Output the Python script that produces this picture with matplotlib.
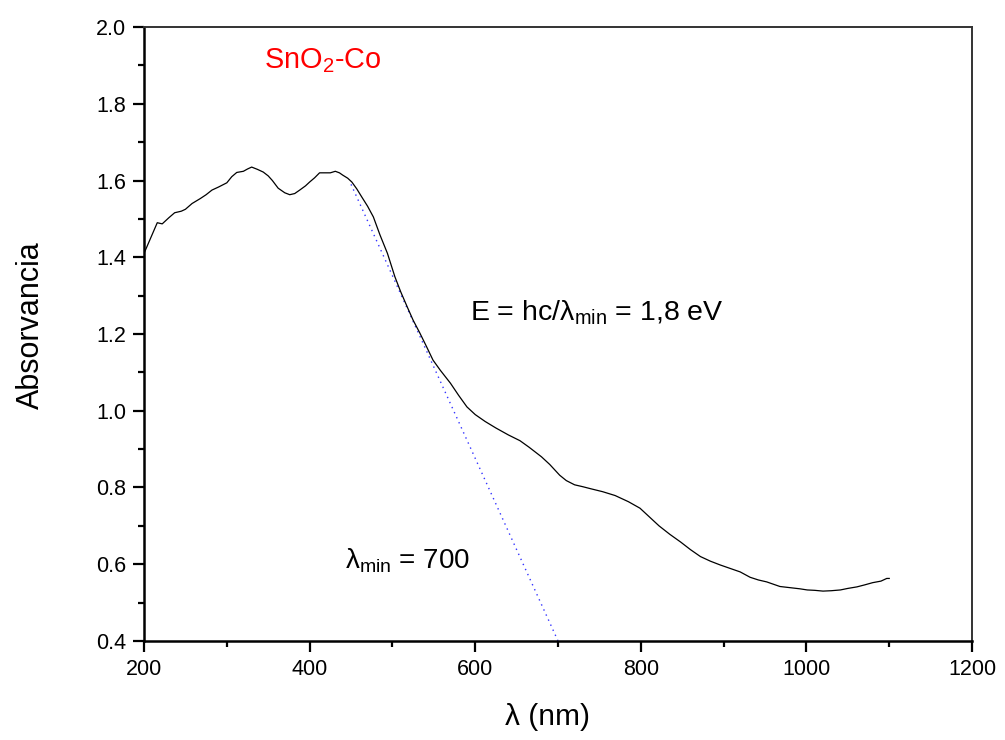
import matplotlib
matplotlib.use("Agg")
import matplotlib.pyplot as plt
from matplotlib.ticker import MultipleLocator

plt.rcParams['font.family'] = ['Liberation Sans', 'DejaVu Sans']
plt.rcParams['mathtext.fontset'] = 'custom'
plt.rcParams['mathtext.rm'] = 'Liberation Sans'
plt.rcParams['mathtext.it'] = 'Liberation Sans:italic'
plt.rcParams['mathtext.bf'] = 'Liberation Sans:bold'

wavelength = [200, 204, 210, 216, 222, 230, 237, 245, 250, 258, 268, 275, 282, 290, 300,
              306, 312, 320, 325, 330, 337, 344, 350, 355, 362, 370, 376, 382, 388, 395,
              400, 406, 412, 418, 425, 431, 436, 440, 446, 451, 457, 463, 470, 477, 485,
              494, 503, 510, 518, 525, 533, 541, 549, 558, 570, 580, 590, 600, 612, 625,
              640, 654, 665, 680, 690, 702, 710, 720, 730, 739, 754, 769, 785, 799, 811,
              822, 835, 848, 860, 872, 884, 896, 908, 920, 932, 942, 952, 960, 968, 976,
              984, 992, 1001, 1010, 1020, 1030, 1041, 1050, 1061, 1070, 1080, 1090, 1097, 1100]
absorbance = [1.41, 1.43, 1.46, 1.49, 1.487, 1.503, 1.516, 1.52, 1.525, 1.54, 1.553, 1.563,
              1.575, 1.583, 1.594, 1.61, 1.621, 1.624, 1.63, 1.635, 1.629, 1.622, 1.612, 1.600,
              1.58, 1.568, 1.563, 1.566, 1.575, 1.586, 1.596, 1.607, 1.62, 1.62, 1.62, 1.624,
              1.62, 1.614, 1.606, 1.596, 1.578, 1.557, 1.533, 1.505, 1.458, 1.41, 1.349, 1.31,
              1.27, 1.236, 1.203, 1.168, 1.132, 1.105, 1.072, 1.04, 1.01, 0.99, 0.972, 0.955,
              0.937, 0.922, 0.905, 0.88, 0.86, 0.832, 0.818, 0.807, 0.802, 0.797, 0.789, 0.779,
              0.763, 0.746, 0.722, 0.70, 0.678, 0.658, 0.638, 0.62, 0.608, 0.598, 0.589, 0.58,
              0.566, 0.559, 0.554, 0.548, 0.542, 0.54, 0.538, 0.536, 0.533, 0.532, 0.530, 0.531,
              0.533, 0.537, 0.541, 0.546, 0.552, 0.556, 0.563, 0.563]
tangent_x = [450, 700]
tangent_y = [1.59, 0.40]

fig = plt.figure(figsize=(10.05, 7.4), dpi=100)
ax = fig.add_axes([0.1433, 0.1338, 0.9672 - 0.1433, 0.9635 - 0.1338])

ax.plot(tangent_x, tangent_y, color='#3333ff', lw=1.0, linestyle=(0, (1, 3)))
ax.plot(wavelength, absorbance, color='black', lw=0.9)

ax.set_xlim(200, 1200)
ax.set_ylim(0.4, 2.0)
ax.xaxis.set_major_locator(MultipleLocator(200))
ax.xaxis.set_minor_locator(MultipleLocator(100))
ax.yaxis.set_major_locator(MultipleLocator(0.2))
ax.yaxis.set_minor_locator(MultipleLocator(0.1))
ax.yaxis.set_major_formatter(matplotlib.ticker.FormatStrFormatter('%.1f'))
ax.tick_params(which='major', direction='out', length=8, width=1.6, labelsize=15.5, pad=5)
ax.tick_params(which='minor', direction='out', length=4.5, width=1.6)
ax.tick_params(top=False, right=False)
for s in ['left', 'bottom']:
    ax.spines[s].set_linewidth(1.8)
for s in ['top', 'right']:
    ax.spines[s].set_linewidth(1.4)
    ax.spines[s].set_color('#333333')

ax.set_xlabel('λ (nm)', fontsize=21.5)
ax.set_ylabel('Absorvancia', fontsize=22)
ax.xaxis.set_label_coords(0.487, -0.101)
ax.yaxis.set_label_coords(-0.118, 0.515)

ax.text(0.145, 0.945, 'SnO$_2$-Co', transform=ax.transAxes, color='red', fontsize=20.8,
        ha='left', va='center')
ax.text(0.394, 0.535, 'E = hc/λ$_{\\mathrm{min}}$ = 1,8 eV', transform=ax.transAxes, fontsize=20.5,
        ha='left', va='center')
ax.text(0.243, 0.13, 'λ$_{\\mathrm{min}}$ = 700', transform=ax.transAxes, fontsize=20,
        ha='left', va='center')

fig.savefig('out.png', dpi=100)
